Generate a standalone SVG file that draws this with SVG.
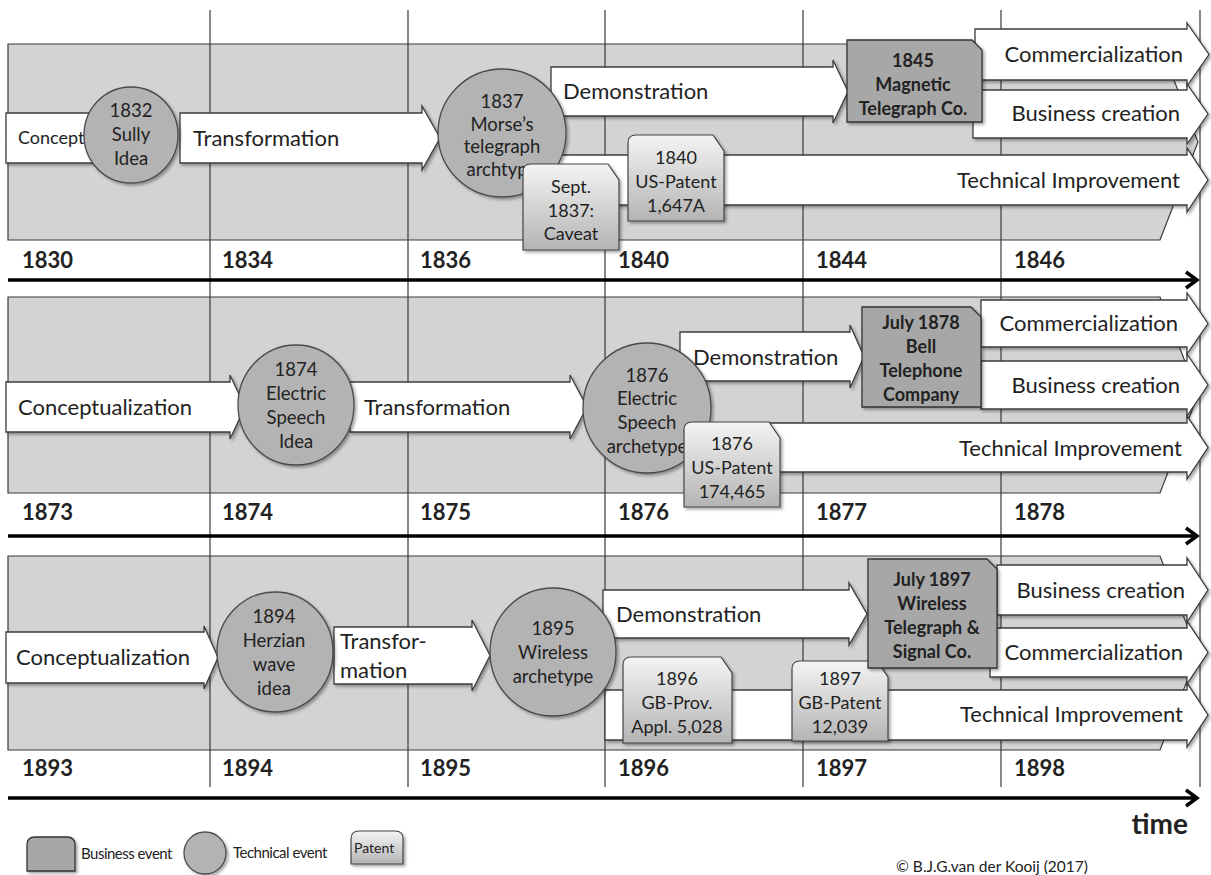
<svg xmlns="http://www.w3.org/2000/svg" width="1211" height="875" viewBox="0 0 1211 875">
<defs>
<filter id="sh" x="-10%" y="-10%" width="125%" height="130%">
<feDropShadow dx="2" dy="2" stdDeviation="1.5" flood-color="#000" flood-opacity="0.35"/>
</filter>
<linearGradient id="pg" x1="0" y1="0" x2="0" y2="1">
<stop offset="0" stop-color="#f4f4f4"/>
<stop offset="1" stop-color="#b4b4b4"/>
</linearGradient>
</defs>
<style>
.panel{fill:#d3d3d3;stroke:#3a3a3a;stroke-width:1.2}
.grid{stroke:#3a3a3a;stroke-width:1.2}
.axis{stroke:#000;stroke-width:3.5;fill:none}
.arr{fill:#fff;stroke:#3c3c3c;stroke-width:1.3;filter:url(#sh)}
.tech{fill:#b3b3b3;stroke:#4a4a4a;stroke-width:1.3;filter:url(#sh)}
.biz{fill:#a7a7a7;stroke:#333;stroke-width:1.3;filter:url(#sh)}
.pat{fill:url(#pg);stroke:#444;stroke-width:1.2;filter:url(#sh)}
text{font-family:Lato,"Liberation Sans",sans-serif;fill:#222}
.lbl{font-size:22px}
.lbl-r{font-size:22px;text-anchor:end}
.c{font-size:18.5px;text-anchor:middle}
.p{font-size:18px;text-anchor:middle}
.b{font-size:18px;font-weight:bold;text-anchor:middle}
.yr{font-size:22px;font-weight:bold}
.leg{font-size:15px;letter-spacing:-0.5px}
</style>

<g id="panels">
<path class="panel" d="M8,44 H1160 L1198,142 L1160,240 H8 Z"/>
<path class="panel" d="M8,297 H1160 L1198,395 L1160,493 H8 Z"/>
<path class="panel" d="M8,556 H1160 L1198,653 L1160,750 H8 Z"/>
</g>

<g id="grid">
<line class="grid" x1="210" y1="10" x2="210" y2="787"/>
<line class="grid" x1="408" y1="10" x2="408" y2="787"/>
<line class="grid" x1="605" y1="10" x2="605" y2="787"/>
<line class="grid" x1="803" y1="10" x2="803" y2="787"/>
<line class="grid" x1="1001" y1="10" x2="1001" y2="787"/>
<line class="grid" x1="1200" y1="10" x2="1200" y2="787"/>
</g>

<g id="axes">
<path class="axis" d="M8,280 H1196 M1186,272 L1197,280 L1186,288"/>
<path class="axis" d="M8,536 H1196 M1186,528 L1197,536 L1186,544"/>
<path class="axis" d="M8,798 H1196 M1186,790 L1197,798 L1186,806"/>
</g>

<g id="years">
<text class="yr" x="22" y="268">1830</text>
<text class="yr" x="222" y="268">1834</text>
<text class="yr" x="420" y="268">1836</text>
<text class="yr" x="618" y="268">1840</text>
<text class="yr" x="816" y="268">1844</text>
<text class="yr" x="1014" y="268">1846</text>
<text class="yr" x="22" y="520">1873</text>
<text class="yr" x="222" y="520">1874</text>
<text class="yr" x="420" y="520">1875</text>
<text class="yr" x="618" y="520">1876</text>
<text class="yr" x="816" y="520">1877</text>
<text class="yr" x="1014" y="520">1878</text>
<text class="yr" x="22" y="776">1893</text>
<text class="yr" x="222" y="776">1894</text>
<text class="yr" x="420" y="776">1895</text>
<text class="yr" x="618" y="776">1896</text>
<text class="yr" x="816" y="776">1897</text>
<text class="yr" x="1014" y="776">1898</text>
</g>

<g id="connectors">
<!-- panel 1 -->
<g id="p1-tech"><path class="arr" d="M530,155 H1187 V148 L1208,180 L1187,212 V205 H530 Z"/><text class="lbl-r" x="1180" y="188">Technical Improvement</text></g>
<g id="p1-comm"><path class="arr" d="M975,29 H1187 V23 L1209,54.5 L1187,86 V80 H975 Z"/><text class="lbl-r" x="1183" y="62">Commercialization</text></g>
<g id="p1-biz"><path class="arr" d="M973,90 H1187 V84 L1208,114 L1187,144 V138 H973 Z"/><text class="lbl-r" x="1180" y="121">Business creation</text></g>
<g id="p1-demo"><path class="arr" d="M551,67 H833 V60 L848,91.5 L833,123 V116 H551 Z"/><text class="lbl" x="563" y="99">Demonstration</text></g>
<g id="p1-trans"><path class="arr" d="M180,113 H422 V106 L440,138 L422,170 V163 H180 Z"/><text class="lbl" x="193" y="146">Transformation</text></g>
<g id="p1-concept"><path class="arr" d="M6,113 H98 V106 L112,138 L98,170 V163 H6 Z"/><text x="18" y="144" style="font-size:18px">Concept</text></g>
<!-- panel 2 -->
<g id="p2-tech"><path class="arr" d="M700,423 H1187 V416 L1208,447.5 L1187,479 V472 H700 Z"/><text class="lbl-r" x="1182" y="456">Technical Improvement</text></g>
<g id="p2-comm"><path class="arr" d="M981,300 H1187 V293 L1208,323.5 L1187,354 V347 H981 Z"/><text class="lbl-r" x="1178" y="331">Commercialization</text></g>
<g id="p2-biz"><path class="arr" d="M981,361 H1187 V354 L1208,385 L1187,416 V409 H981 Z"/><text class="lbl-r" x="1180" y="393">Business creation</text></g>
<g id="p2-demo"><path class="arr" d="M680,332 H850 V325 L864,356.5 L850,388 V381 H680 Z"/><text class="lbl" x="693" y="365">Demonstration</text></g>
<g id="p2-trans"><path class="arr" d="M350,382 H570 V375 L587,407 L570,439 V432 H350 Z"/><text class="lbl" x="364" y="415">Transformation</text></g>
<g id="p2-concept"><path class="arr" d="M6,382 H230 V375 L245,407 L230,439 V432 H6 Z"/><text class="lbl" x="18" y="415">Conceptualization</text></g>
<!-- panel 3 -->
<g id="p3-tech"><path class="arr" d="M605,690 H1187 V683 L1208,715 L1187,747 V740 H605 Z"/><text class="lbl-r" x="1183" y="722">Technical Improvement</text></g>
<g id="p3-comm"><path class="arr" d="M990,628 H1187 V621 L1208,652.5 L1187,684 V677 H990 Z"/><text class="lbl-r" x="1183" y="660">Commercialization</text></g>
<g id="p3-biz"><path class="arr" d="M997,565 H1187 V558 L1208,590 L1187,622 V615 H997 Z"/><text class="lbl-r" x="1185" y="598">Business creation</text></g>
<g id="p3-demo"><path class="arr" d="M603,590 H849 V583 L867,614 L849,645 V638 H603 Z"/><text class="lbl" x="616" y="622">Demonstration</text></g>
<g id="p3-trans"><path class="arr" d="M334,627 H472 V620 L490,655.5 L472,691 V684 H334 Z"/><text class="lbl" x="340" y="649">Transfor-</text><text class="lbl" x="340" y="678">mation</text></g>
<g id="p3-concept"><path class="arr" d="M6,632 H204 V626 L218,657.5 L204,689 V683 H6 Z"/><text class="lbl" x="16" y="665">Conceptualization</text></g>
</g>

<!-- panel 1 nodes -->
<g id="sully"><ellipse class="tech" cx="131" cy="135" rx="47" ry="48"/>
<text class="c" x="131" y="117">1832</text><text class="c" x="131" y="141">Sully</text><text class="c" x="131" y="165">Idea</text></g>
<g id="morse"><ellipse class="tech" cx="502" cy="133" rx="64" ry="64"/>
<text class="c" x="502" y="108">1837</text><text class="c" x="502" y="131">Morse’s</text><text class="c" x="502" y="153">telegraph</text><text class="c" x="502" y="176">archtype</text></g>
<g id="caveat"><path class="pat" d="M523,250 V172 Q523,164 531,164 H608 L619,180 V250 Z"/>
<text class="p" x="571" y="193">Sept.</text><text class="p" x="571" y="217">1837:</text><text class="p" x="571" y="240">Caveat</text></g>
<g id="patent1840"><path class="pat" d="M628,221 V143 Q628,135 636,135 H713 L724,151 V221 Z"/>
<text class="p" x="676" y="164">1840</text><text class="p" x="676" y="188">US-Patent</text><text class="p" x="676" y="212">1,647A</text></g>
<g id="mtc"><path class="biz" d="M847,40 H972 L982,50 V122 H847 Z"/>
<text class="b" x="913" y="67">1845</text><text class="b" x="913" y="91">Magnetic</text><text class="b" x="913" y="115">Telegraph Co.</text></g>

<!-- panel 2 nodes -->
<g id="speech-idea"><ellipse class="tech" cx="296" cy="405" rx="58" ry="60"/>
<text class="c" x="296" y="376">1874</text><text class="c" x="296" y="400">Electric</text><text class="c" x="296" y="424">Speech</text><text class="c" x="296" y="448">Idea</text></g>
<g id="speech-arch"><ellipse class="tech" cx="647" cy="408" rx="64" ry="65"/>
<text class="c" x="647" y="382">1876</text><text class="c" x="647" y="405">Electric</text><text class="c" x="647" y="429">Speech</text><text class="c" x="647" y="453">archetype</text></g>
<g id="patent1876"><path class="pat" d="M684,507 V430 Q684,422 692,422 H769 L780,438 V507 Z"/>
<text class="p" x="732" y="450">1876</text><text class="p" x="732" y="474">US-Patent</text><text class="p" x="732" y="498">174,465</text></g>
<g id="bell"><path class="biz" d="M862,307 H971 L981,317 V407 H862 Z"/>
<text class="b" x="921" y="329">July 1878</text><text class="b" x="921" y="353">Bell</text><text class="b" x="921" y="377">Telephone</text><text class="b" x="921" y="401">Company</text></g>

<!-- panel 3 nodes -->
<g id="herzian"><ellipse class="tech" cx="275" cy="652" rx="58" ry="60"/>
<text class="c" x="274" y="623">1894</text><text class="c" x="274" y="647">Herzian</text><text class="c" x="274" y="671">wave</text><text class="c" x="274" y="695">idea</text></g>
<g id="wireless-arch"><ellipse class="tech" cx="553" cy="652" rx="63" ry="64"/>
<text class="c" x="553" y="635">1895</text><text class="c" x="553" y="659">Wireless</text><text class="c" x="553" y="683">archetype</text></g>
<g id="patent1896"><path class="pat" d="M623,743 V665 Q623,657 631,657 H721 L732,673 V743 Z"/>
<text class="p" x="677" y="685">1896</text><text class="p" x="677" y="709">GB-Prov.</text><text class="p" x="677" y="733">Appl. 5,028</text></g>
<g id="patent1897"><path class="pat" d="M792,741 V669 Q792,661 800,661 H877 L888,677 V741 Z"/>
<text class="p" x="840" y="685">1897</text><text class="p" x="840" y="709">GB-Patent</text><text class="p" x="840" y="733">12,039</text></g>
<g id="wtsc"><path class="biz" d="M868,559 H987 L997,569 V668 H868 Z"/>
<text class="b" x="932" y="586">July 1897</text><text class="b" x="932" y="610">Wireless</text><text class="b" x="932" y="634">Telegraph &amp;</text><text class="b" x="932" y="658">Signal Co.</text></g>

<g id="time"><text x="1188" y="834" style="font-size:28px;font-weight:bold;text-anchor:end">time</text></g>

<g id="legend">
<path class="biz" d="M27,871 V845 Q27,837 35,837 H67 Q75,837 75,845 V871 Z"/>
<text class="leg" x="81" y="859">Business event</text>
<ellipse class="tech" cx="205" cy="853" rx="21" ry="21"/>
<text class="leg" x="233" y="858">Technical event</text>
<path class="pat" d="M351,864 V839 Q351,831 359,831 H395 Q403,831 403,839 V864 Z"/>
<text x="354" y="853" style="font-size:14px">Patent</text>
</g>

<text x="896" y="872" style="font-size:15.5px">© B.J.G.van der Kooij (2017)</text>
</svg>
